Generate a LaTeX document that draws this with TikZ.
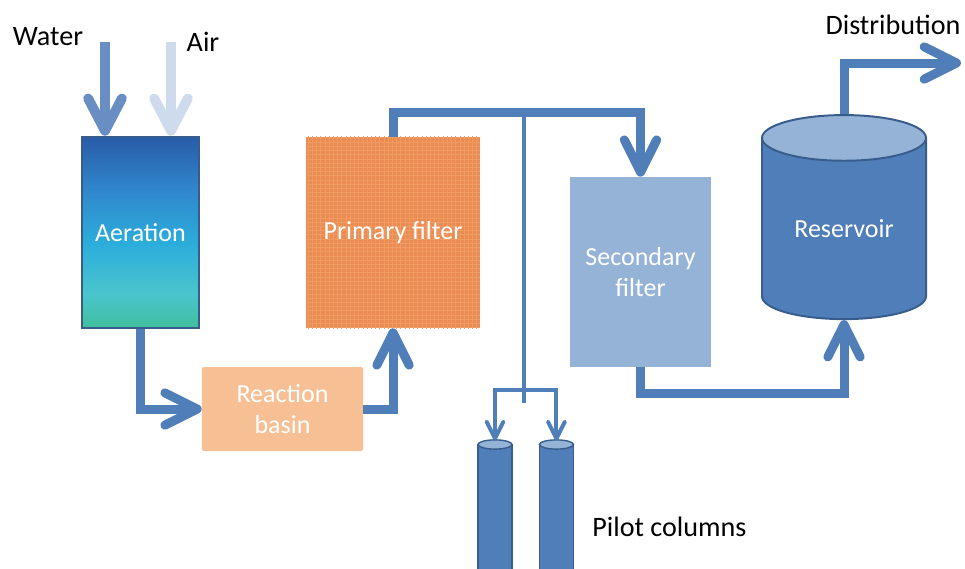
\documentclass[tikz,border=0pt]{standalone}
\usepackage{fontspec}
\setmainfont{Carlito}
\usetikzlibrary{positioning,shapes.geometric,arrows.meta,patterns}

\definecolor{pipe}{RGB}{79,126,184}
\definecolor{pipedark}{RGB}{56,93,140}
\definecolor{pipelight}{RGB}{149,179,215}
\definecolor{wateraro}{RGB}{104,142,196}
\definecolor{airaro}{RGB}{206,219,237}
\definecolor{basinfill}{RGB}{246,192,148}
\definecolor{filterfill}{RGB}{235,140,82}
\definecolor{filtergrid}{RGB}{240,154,100}

% aeration column colours, bottom to top (box spans 25bp to 75bp)
\pgfdeclareverticalshading{aershade}{100bp}{rgb(0bp)=(0.25,0.75,0.62);
	rgb(25bp)=(0.25,0.75,0.62); rgb(34bp)=(0.29,0.77,0.80);
	rgb(47bp)=(0.17,0.68,0.86); rgb(61bp)=(0.19,0.53,0.80);
	rgb(75bp)=(0.16,0.36,0.66); rgb(100bp)=(0.16,0.36,0.66)}

\begin{document}
\begin{tikzpicture} [x=0.025cm, y=-0.025cm,
		every node/.style={inner sep=0pt, align=center, text=white,
			font=\fontsize{18.5}{22}\selectfont},
		tag/.style={text=black, font=\fontsize{20}{24}\selectfont},
		box/.style={rectangle},
		tank/.style={cylinder, shape border rotate=90, draw=pipedark, line width=1.4pt,
			cylinder uses custom fill, cylinder body fill=pipe, cylinder end fill=pipelight},
		column/.style={rectangle, fill=pipe, draw=pipedark, line width=1pt,
			minimum width=0.85cm, minimum height=3.24cm},
		colend/.style={fill=pipelight, draw=pipedark, line width=1pt},
		flow/.style={draw=pipe, line width=6.4pt, -{Straight Barb[length=23pt,width=23pt,round]}},
		feed/.style={line width=7pt, -{Straight Barb[length=23pt,width=24pt,round]}},
		branch/.style={draw=pipe, line width=2.8pt},
		pilotflow/.style={branch, -{Straight Barb[length=12pt,width=12pt,round]}}
	]
	\useasboundingbox (0,0) rectangle (965,568);

	% treatment train
	\node (aer) [box, draw=pipedark, line width=1.8pt, shading=aershade,
		minimum width=2.925cm, minimum height=4.775cm] at (140.5,232.5) {Aeration};
	\node (basin) [box, fill=basinfill, rounded corners=1.5pt,
		minimum width=4.025cm, minimum height=2.1cm] at (282.5,409) {Reaction\\basin};
	\node (prim) [box, fill=filterfill, postaction={pattern=grid, pattern color=filtergrid},
		minimum width=4.35cm, minimum height=4.775cm] at (393,232.5) {Primary filter};
	\node (sec) [box, fill=pipelight, minimum width=3.525cm, minimum height=4.75cm]
		at (640.5,272) {Secondary\\filter};
	\node (res) [tank, aspect=0.46, minimum width=4.1cm, minimum height=5.1cm]
		at (844,229) {Reservoir};

	% pilot columns
	\node (col1) [column] at (495,510) {};
	\node (col2) [column, right=0.65cm of col1] {};
	\draw[colend] (col1.north) ellipse (0.425cm and 0.115cm);
	\draw[colend] (col2.north) ellipse (0.425cm and 0.115cm);

	% labels
	\node (water) [tag] at (48,37) {Water};
	\node (air) [tag] at (203,42) {Air};
	\node (dist) [tag] at (893,25) {Distribution};
	\node (pilot) [tag, right=0.45cm of col2.east, yshift=-0.42cm] {Pilot columns};

	\coordinate (win) at (105,42);
	\coordinate (ain) at (171,42);
	\coordinate (top) at (524,112);
	\coordinate (fork) at (524,390);
	\coordinate (stub) at (524,403);
	\coordinate (out) at (961,63);

	% connectors
	\draw[feed, draw=wateraro] (win) -- (aer.north -| win);
	\draw[feed, draw=airaro] (ain) -- (aer.north -| ain);
	\draw[flow] (aer.south) |- (basin.west);
	\draw[flow] (basin.east) -| (prim.south);
	\draw[flow] (prim.north) |- (top) -| (sec.north);
	\draw[branch] (top) -- (stub);
	\draw[pilotflow] (fork) -| ([yshift=0.1cm]col1.north);
	\draw[pilotflow] (fork) -| ([yshift=0.1cm]col2.north);
	\draw[flow] (sec.south) -- ++(0,26) -| (res.south);
	\draw[flow] (res.north) |- (out);

\end{tikzpicture}
\end{document}
